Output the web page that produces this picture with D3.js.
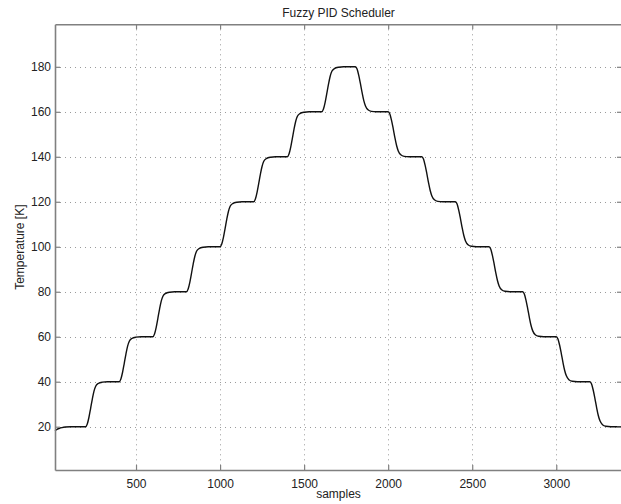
<!DOCTYPE html>
<html>
<head>
<meta charset="utf-8">
<script src="https://cdn.jsdelivr.net/npm/d3@7"></script>
<style>
  html, body { margin: 0; padding: 0; background: #fff; }
  svg { display: block; }
  text { font-family: "Liberation Sans", Arial, Helvetica, sans-serif; fill: #222; }
</style>
</head>
<body>
<svg id="chart" width="621" height="504"></svg>
<script>
// ---- data ----
const title = "Fuzzy PID Scheduler";
const xLabel = "samples";
const yLabel = "Temperature [K]";
const xTicks = [500, 1000, 1500, 2000, 2500, 3000];
const yTicks = [20, 40, 60, 80, 100, 120, 140, 160, 180];
const xDomain = [18, 3391];
const yDomain = [0.75, 198.9];

const samples = [
  18, 30, 45, 60, 80, 110,
  200, 210, 220, 230, 240, 250, 260, 275, 300, 330,
  400, 410, 420, 430, 440, 450, 460, 475, 500, 530,
  600, 610, 620, 630, 640, 650, 660, 675, 700, 730,
  800, 810, 820, 830, 840, 850, 860, 875, 900, 930,
  1000, 1010, 1020, 1030, 1040, 1050, 1060, 1075, 1100, 1130,
  1200, 1210, 1220, 1230, 1240, 1250, 1260, 1275, 1300, 1330,
  1400, 1410, 1420, 1430, 1440, 1450, 1460, 1475, 1500, 1530,
  1605, 1615, 1625, 1635, 1645, 1655, 1665, 1680, 1705, 1735,
  1805, 1815, 1825, 1835, 1845, 1855, 1865, 1880, 1900, 1930,
  2000, 2010, 2020, 2030, 2040, 2050, 2060, 2075, 2095, 2125,
  2200, 2210, 2220, 2230, 2240, 2250, 2260, 2275, 2295, 2325,
  2400, 2410, 2420, 2430, 2440, 2450, 2460, 2475, 2495, 2525,
  2600, 2610, 2620, 2630, 2640, 2650, 2660, 2675, 2695, 2725,
  2800, 2810, 2820, 2830, 2840, 2850, 2860, 2875, 2895, 2925,
  3000, 3010, 3020, 3030, 3040, 3050, 3060, 3075, 3095, 3125,
  3200, 3210, 3220, 3230, 3240, 3250, 3260, 3275, 3295, 3325,
  3391
];
const temperature = [
  18.2, 18.8, 19.3, 19.6, 19.85, 20,
  20, 21.2, 24.2, 28.2, 32.3, 35.8, 38, 39.2, 39.8, 40,
  40, 41.2, 44.2, 48.2, 52.3, 55.8, 58, 59.2, 59.8, 60,
  60, 61.2, 64.2, 68.2, 72.3, 75.8, 78, 79.2, 79.8, 80,
  80, 81.2, 84.2, 88.2, 92.3, 95.8, 98, 99.2, 99.8, 100,
  100, 101.2, 104.2, 108.2, 112.3, 115.8, 118, 119.2, 119.8, 120,
  120, 121.2, 124.2, 128.2, 132.3, 135.8, 138, 139.2, 139.8, 140,
  140, 141.2, 144.2, 148.2, 152.3, 155.8, 158, 159.2, 159.8, 160,
  160, 161.2, 164.2, 168.2, 172.3, 175.8, 178, 179.2, 179.8, 180,
  180, 179, 176.2, 172.5, 168.5, 165, 162.6, 160.9, 160.2, 160,
  160, 159, 156.2, 152.5, 148.5, 145, 142.6, 140.9, 140.2, 140,
  140, 139, 136.2, 132.5, 128.5, 125, 122.6, 120.9, 120.2, 120,
  120, 119, 116.2, 112.5, 108.5, 105, 102.6, 100.9, 100.2, 100,
  100, 99, 96.2, 92.5, 88.5, 85, 82.6, 80.9, 80.2, 80,
  80, 79, 76.2, 72.5, 68.5, 65, 62.6, 60.9, 60.2, 60,
  60, 59, 56.2, 52.5, 48.5, 45, 42.6, 40.9, 40.2, 40,
  40, 39, 36.2, 32.5, 28.5, 25, 22.6, 20.9, 20.2, 20,
  20
];

// ---- layout ----
const L = 55, R = 622, T = 24.3, B = 470;
const svg = d3.select("#chart");

const x = d3.scaleLinear().domain(xDomain).range([L, R]);
const y = d3.scaleLinear().domain(yDomain).range([B, T]);

// grid
const grid = svg.append("g").attr("stroke", "#9a9a9a").attr("stroke-width", 1)
  .attr("stroke-dasharray", "1,4");
grid.selectAll("line.vx").data(xTicks).enter().append("line")
  .attr("x1", d => Math.round(x(d)) + 0.5).attr("x2", d => Math.round(x(d)) + 0.5)
  .attr("y1", T).attr("y2", B);
grid.selectAll("line.hy").data(yTicks).enter().append("line")
  .attr("y1", d => Math.round(y(d)) + 0.5).attr("y2", d => Math.round(y(d)) + 0.5)
  .attr("x1", L).attr("x2", R);

// data line
const line = d3.line()
  .x((d, i) => x(samples[i]))
  .y(d => y(d))
  .curve(d3.curveMonotoneX);
svg.append("path")
  .attr("d", line(temperature))
  .attr("fill", "none")
  .attr("stroke", "#111")
  .attr("stroke-width", 1.4);

// axes (inward ticks, MATLAB style)
const axisColor = "#808080";
const fmt = d3.format("d");
const bottomAxis = d3.axisBottom(x).tickValues(xTicks).tickFormat(fmt).tickSizeInner(-5).tickSizeOuter(0).tickPadding(9);
const gB = svg.append("g").attr("transform", `translate(0,${B})`).call(bottomAxis);
const leftAxis = d3.axisLeft(y).tickValues(yTicks).tickFormat(fmt).tickSizeInner(-5).tickSizeOuter(0).tickPadding(9);
const gL = svg.append("g").attr("transform", `translate(${L},0)`).call(leftAxis);
const topAxis = d3.axisTop(x).tickValues(xTicks).tickSizeInner(-5).tickSizeOuter(0).tickFormat("");
const gT = svg.append("g").attr("transform", `translate(0,${T})`).call(topAxis);
const rightAxis = d3.axisRight(y).tickValues(yTicks).tickSizeInner(-5).tickSizeOuter(0).tickFormat("");
const gR = svg.append("g").attr("transform", `translate(${R},0)`).call(rightAxis);

[gB, gL, gT, gR].forEach(g => {
  g.select(".domain").attr("stroke", axisColor).attr("stroke-width", 1.6);
  g.selectAll(".tick line").attr("stroke", axisColor).attr("stroke-width", 1.2);
  g.selectAll(".tick text")
    .attr("fill", "#222")
    .style("font-family", '"Liberation Sans", Arial, sans-serif')
    .style("font-size", "12px");
});
gL.selectAll(".tick text").attr("x", -4);

// title and labels
svg.append("text").attr("x", (L + R) / 2).attr("y", 17)
  .attr("text-anchor", "middle").style("font-size", "12px").text(title);
svg.append("text").attr("x", (L + R) / 2).attr("y", 498)
  .attr("text-anchor", "middle").style("font-size", "12px").text(xLabel);
svg.append("text")
  .attr("transform", `translate(24,${(T + B) / 2}) rotate(-90)`)
  .attr("text-anchor", "middle").style("font-size", "12px").text(yLabel);
</script>
</body>
</html>
